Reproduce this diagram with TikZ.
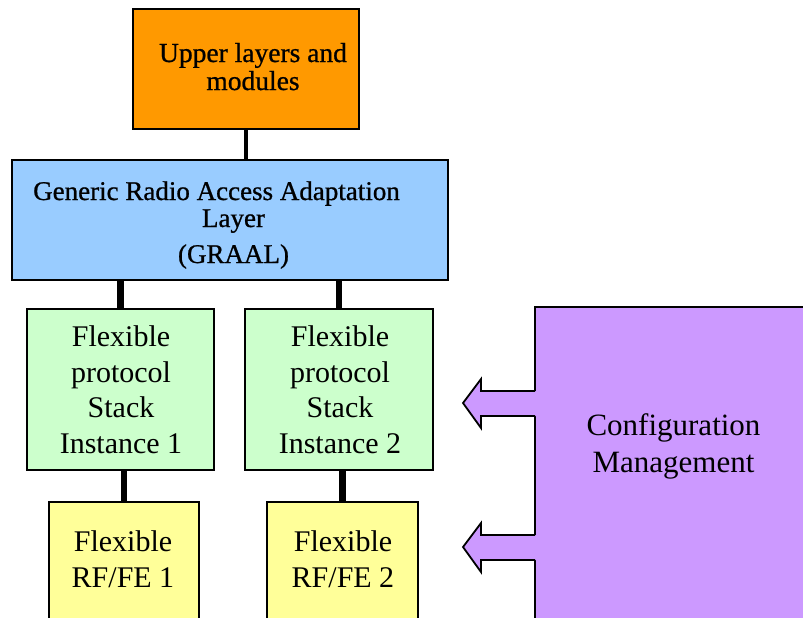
\documentclass[tikz,border=0pt]{standalone}
\usepackage{fontspec}
\setmainfont{Liberation Serif}
\newfontfamily\heavyserif[FakeBold=0.8]{Liberation Serif}
\definecolor{upperfill}{HTML}{FF9900}
\definecolor{graalfill}{HTML}{99CCFF}
\definecolor{stackfill}{HTML}{CCFFCC}
\definecolor{rffill}{HTML}{FFFF99}
\definecolor{cmfill}{HTML}{CC99FF}
\begin{document}
\begin{tikzpicture}[x=1pt,y=-1pt,
  block/.style={draw=black, line width=2pt, anchor=north west, inner sep=0pt, outer sep=0pt},
  label/.style={anchor=base, align=center, inner sep=0pt},
  thinlink/.style={draw=black, line width=3.5pt},
  thicklink/.style={draw=black, line width=6.5pt},
  blockarrow/.pic={
    \fill[cmfill] (0,0) -- (18,-24) -- (18,-12) -- (73,-12) -- (73,13) -- (18,13) -- (18,25) -- cycle;
    \draw[black, line width=1.8pt, line join=miter]
      (72,-12) -- (18,-12) -- (18,-24) -- (0,0) -- (18,25) -- (18,13) -- (72,13);
  }]
\useasboundingbox (0,0) rectangle (803,618);
\clip (0,0) rectangle (803,618);

% boxes
\node[block, fill=upperfill, minimum width=226pt, minimum height=120pt] (up) at (133,9) {};
\node[block, fill=graalfill, minimum width=436pt, minimum height=120pt] (graal) at (12,160) {};
\node[block, fill=stackfill, minimum width=187pt, minimum height=161pt] (fps1) at (27,309) {};
\node[block, fill=stackfill, minimum width=188pt, minimum height=161pt] (fps2) at (245,309) {};
\node[block, fill=rffill, minimum width=150pt, minimum height=140pt] (rf1) at (49,502) {};
\node[block, fill=rffill, minimum width=151pt, minimum height=140pt] (rf2) at (267,502) {};
\node[block, fill=cmfill, minimum width=290pt, minimum height=340pt] (cm) at (535,307) {};

% links between layers
\draw[thinlink] (up.south) -- (up.south |- graal.north);
\draw[thicklink] (fps1.north |- graal.south) -- (fps1.north);
\draw[thicklink] (fps2.north |- graal.south) -- (fps2.north);
\draw[thicklink] (rf1.north |- fps1.south) -- (rf1.north);
\draw[thicklink] (rf2.north |- fps2.south) -- (rf2.north);

% configuration arrows
\pic at (463,403) {blockarrow};
\pic at (463,547) {blockarrow};

% texts (anchored on the baseline of the last line)
\node[label, font=\heavyserif\fontsize{27.5}{28}\selectfont] (tup) at (253,90)
  {Upper layers and\\modules};
\node[label, font=\heavyserif\fontsize{27}{27}\selectfont] (tgraal) at (233.5,263)
  {Generic Radio Access Adaptation\hspace*{34pt}\\Layer\\[9pt](GRAAL)};
\node[label, font=\fontsize{30}{35.4}\selectfont] (tfps1) at (121,453)
  {Flexible\\protocol\\Stack\\Instance 1};
\node[label, font=\fontsize{30}{35.4}\selectfont] (tfps2) at (340,453)
  {Flexible\\protocol\\Stack\\Instance 2};
\node[label, font=\fontsize{30}{36}\selectfont] (trf1) at (123,587)
  {Flexible\\RF/FE 1};
\node[label, font=\fontsize{30}{36}\selectfont] (trf2) at (343,587)
  {Flexible\\RF/FE 2};
\node[label, font=\fontsize{31}{37}\selectfont] (tcm) at (673.5,472)
  {Configuration\\Management};
\end{tikzpicture}
\end{document}
